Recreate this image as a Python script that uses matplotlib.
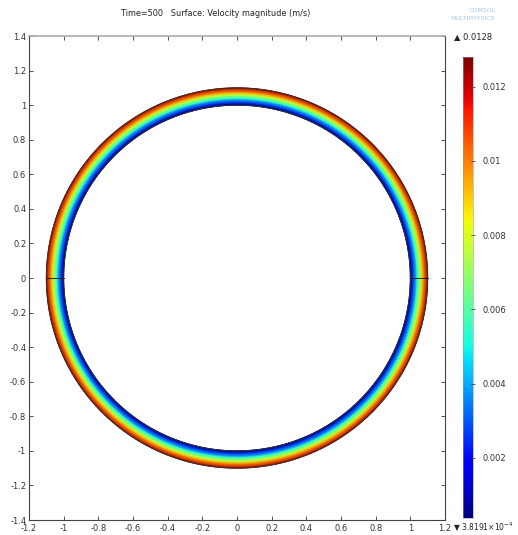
import numpy as np
import matplotlib
matplotlib.use("Agg")
import matplotlib.pyplot as plt

plt.rcParams['axes.unicode_minus'] = False
plt.rcParams['font.family'] = ['DejaVu Sans']

# radial velocity profile across the gap
radius = [1.0, 1.02, 1.04, 1.06, 1.08, 1.1]
velocity = [0.00038191, 0.0029, 0.0054, 0.0078, 0.0103, 0.0128]
v_min, v_max = 0.00038191, 0.0128

x_ticks = [-1.2, -1, -0.8, -0.6, -0.4, -0.2, 0, 0.2, 0.4, 0.6, 0.8, 1, 1.2]
y_ticks = [-1.4, -1.2, -1, -0.8, -0.6, -0.4, -0.2, 0, 0.2, 0.4, 0.6, 0.8, 1, 1.2, 1.4]
cbar_ticks = [0.002, 0.004, 0.006, 0.008, 0.01, 0.012]

fig = plt.figure(figsize=(5.18, 5.35), dpi=100)
ax = fig.add_axes([29 / 518, 15 / 535, 416 / 518, 484 / 535])

theta = np.linspace(0, 2 * np.pi, 721)
R, T = np.meshgrid(np.array(radius), theta)
V = np.tile(np.array(velocity), (len(theta), 1))
X = R * np.cos(T)
Y = R * np.sin(T)
mesh = ax.pcolormesh(X, Y, V, cmap='jet', vmin=v_min, vmax=v_max,
                     shading='gouraud', rasterized=True)

# geometry edges
for r in (radius[0], radius[-1]):
    ax.plot(r * np.cos(theta), r * np.sin(theta), color='#333333', lw=0.6)
ax.plot([-radius[-1], -radius[0]], [0, 0], color='#222222', lw=0.7)
ax.plot([radius[0], radius[-1]], [0, 0], color='#222222', lw=0.7)

ax.set_xlim(-1.2, 1.2)
ax.set_ylim(-1.4, 1.4)
ax.set_aspect('auto')
ax.set_xticks(x_ticks)
ax.set_yticks(y_ticks)
ax.set_xticklabels(['%g' % t for t in x_ticks])
ax.set_yticklabels(['%g' % t for t in y_ticks])
ax.tick_params(direction='in', top=True, right=True, length=3, width=0.6,
               labelsize=6, colors='#333333', pad=2)
ax.tick_params(axis='x', pad=3)
for side in ('left', 'bottom', 'right'):
    ax.spines[side].set_color('#444444')
    ax.spines[side].set_linewidth(0.8)
ax.spines['top'].set_color('#aaaaaa')
ax.spines['top'].set_linewidth(1.2)

fig.text(216 / 518, 1 - 13 / 535, 'Time=500   Surface: Velocity magnitude (m/s)',
         ha='center', va='center', fontsize=5.9, color='#222222')

# colorbar
cax = fig.add_axes([463 / 518, 17 / 535, 10 / 518, 461 / 535])
cb = fig.colorbar(mesh, cax=cax, ticks=cbar_ticks)
cb.ax.set_yticklabels(['%g' % t for t in cbar_ticks])
cb.ax.tick_params(direction='inout', length=3, width=0.6, labelsize=6,
                  colors='#333333', pad=5)
cb.outline.set_linewidth(0.4)
cb.outline.set_edgecolor('#999999')

fig.text(454 / 518, 1 - 37 / 535, '\u25B2 0.0128', ha='left', va='center',
         fontsize=6, color='#222222')
fig.text(453 / 518, 1 - 527 / 535, '\u25BC 3.8191$\\times$10$^{-4}$', ha='left',
         va='center', fontsize=5.5, color='#222222')

# logo text
fig.text(482 / 518, 1 - 11 / 535, 'COMSOL', ha='center', va='center',
         fontsize=4.5, color='#a9c9e6')
fig.text(473 / 518, 1 - 18 / 535, 'MULTIPHYSICS', ha='center', va='center',
         fontsize=4.5, color='#a9c9e6')

fig.savefig('out.png', dpi=100)
